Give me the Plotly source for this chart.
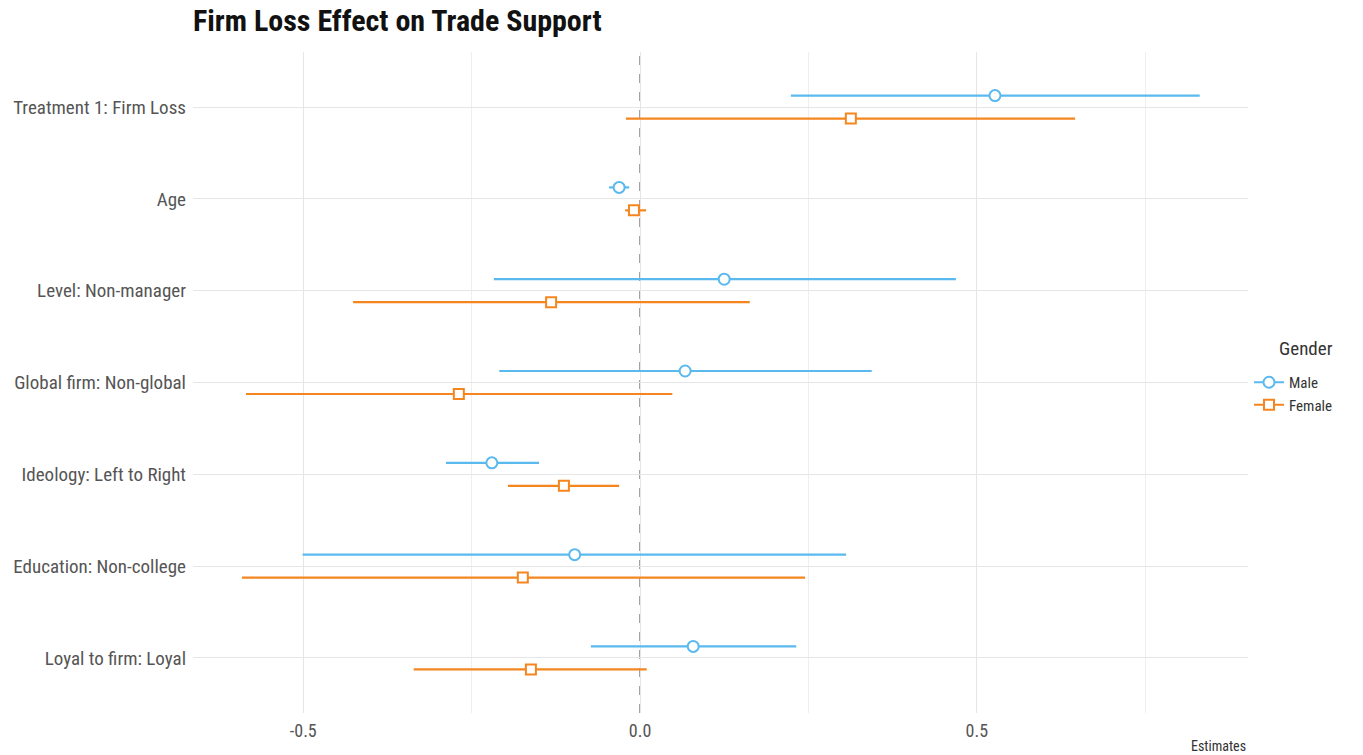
import plotly.graph_objects as go

# Coefficient estimates with confidence intervals, by gender
terms = [
    "Treatment 1: Firm Loss",
    "Age",
    "Level: Non-manager",
    "Global firm: Non-global",
    "Ideology: Left to Right",
    "Education: Non-college",
    "Loyal to firm: Loyal",
]

male_est = [0.527, -0.031, 0.125, 0.067, -0.220, -0.097, 0.079]
male_lo = [0.224, -0.046, -0.217, -0.209, -0.288, -0.501, -0.073]
male_hi = [0.831, -0.016, 0.469, 0.344, -0.150, 0.306, 0.232]

female_est = [0.313, -0.009, -0.132, -0.269, -0.113, -0.174, -0.162]
female_lo = [-0.021, -0.022, -0.426, -0.585, -0.196, -0.591, -0.336]
female_hi = [0.646, 0.009, 0.163, 0.048, -0.031, 0.245, 0.010]

x_ticks = [-0.5, 0.0, 0.5]
x_tick_labels = ["-0.5", "0.0", "0.5"]

FONT = "Liberation Sans Narrow, Roboto Condensed, DejaVu Sans Condensed, Roboto, sans-serif"
BLUE = "#5ab9ee"
ORANGE = "#f5861f"
DODGE = 0.125

base_pos = list(range(1, len(terms) + 1))


def with_gaps(values):
    out = []
    for v in values:
        out += [v, None]
    return out


def series(name, est, lo, hi, offset, color, symbol, size):
    ys = [p + offset for p in base_pos]
    return go.Scatter(
        name=name,
        x=with_gaps(est),
        y=with_gaps(ys),
        mode="lines+markers",
        line=dict(color=color, width=2),
        marker=dict(symbol=symbol, size=size, color="white",
                    line=dict(color=color, width=2)),
        error_x=dict(
            type="data",
            symmetric=False,
            array=with_gaps([h - e for h, e in zip(hi, est)]),
            arrayminus=with_gaps([e - l for e, l in zip(est, lo)]),
            color=color,
            thickness=2.2,
            width=0,
        ),
        cliponaxis=False,
    )


fig = go.Figure()
fig.add_trace(series("Male", male_est, male_lo, male_hi, -DODGE, BLUE, "circle", 11))
fig.add_trace(series("Female", female_est, female_lo, female_hi, DODGE, ORANGE, "square", 10))

# dashed reference line at zero
fig.add_shape(type="line", xref="x", yref="paper", x0=0, x1=0, y0=0, y1=1,
              line=dict(color="#666666", width=1.2, dash="dash"), layer="below")

fig.update_xaxes(
    range=[-0.6637, 0.9027],
    tickvals=x_ticks,
    ticktext=x_tick_labels,
    showgrid=True,
    gridcolor="#e6e6e6",
    gridwidth=1,
    minor=dict(dtick=0.25, tick0=0.25, showgrid=True, gridcolor="#efefef", gridwidth=0.8),
    zeroline=False,
    showline=False,
    ticks="",
    tickfont=dict(family=FONT, size=18, color="#555555"),
    ticklabelstandoff=5,
)
fig.update_yaxes(
    range=[len(terms) + 0.6, 0.4],
    tickvals=base_pos,
    ticktext=terms,
    showgrid=True,
    gridcolor="#e6e6e6",
    gridwidth=1,
    zeroline=False,
    showline=False,
    ticks="",
    tickfont=dict(family=FONT, size=19, color="#555555"),
    ticklabelstandoff=6,
)

fig.add_annotation(text="Estimates", xref="paper", yref="paper", x=1.0, y=-0.05,
                   xanchor="right", yanchor="middle", showarrow=False,
                   font=dict(family=FONT, size=14, color="#333333"))

# legend heading, set to the right of the legend keys
fig.add_annotation(text="Gender", xref="paper", yref="paper",
                   x=(1277 - 193) / 1055, y=(713 - 349) / 661,
                   xanchor="left", yanchor="middle", showarrow=False,
                   font=dict(family=FONT, size=19, color="#333333"))

fig.update_layout(
    width=1363,
    height=755,
    margin=dict(l=193, r=115, t=52, b=42),
    paper_bgcolor="white",
    plot_bgcolor="white",
    title=dict(
        text="<b>Firm Loss Effect on Trade Support</b>",
        x=193 / 1363, xanchor="left", xref="container",
        y=1 - 20 / 755, yanchor="middle", yref="container",
        font=dict(family=FONT, size=30, color="#111111"),
    ),
    legend=dict(
        x=(1249 - 193) / 1055, xanchor="left", y=(713 - 366) / 661, yanchor="top",
        font=dict(family=FONT, size=15, color="#333333"),
        itemwidth=30,
        tracegroupgap=2,
        bgcolor="rgba(0,0,0,0)",
    ),
    showlegend=True,
)

fig.write_html("out.html")
